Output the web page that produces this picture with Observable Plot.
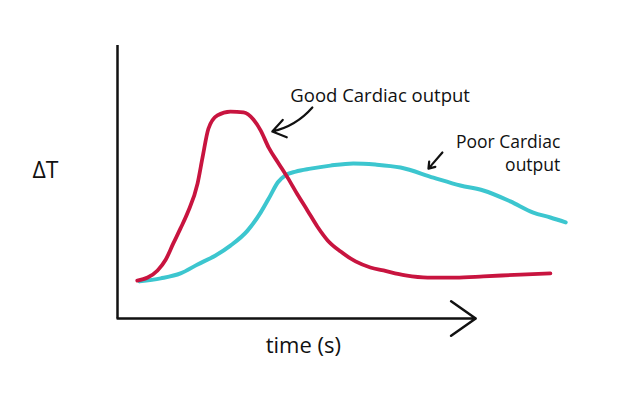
<!DOCTYPE html>
<html>
<head>
<meta charset="utf-8">
<script src="https://cdn.jsdelivr.net/npm/d3@7"></script>
<script src="https://cdn.jsdelivr.net/npm/@observablehq/plot@0.6"></script>
<style>
  html, body { margin: 0; padding: 0; background: #fff; }
  #chart svg { display: block; }
</style>
</head>
<body>
<div id="chart"></div>
<script>
// Good cardiac output (red)
const goodT = [4.4, 6.7, 8.9, 10.7, 12.4, 14.0, 15.6, 17.8, 18.9, 20.2, 22.2, 25.1, 28.0, 30.2, 31.8, 33.6, 35.8, 37.8, 40.0, 42.2, 44.4, 46.7, 49.6, 52.9, 56.2, 59.1, 64.0, 68.9, 75.1, 81.3, 89.6, 96.2];
const goodDT = [13.9, 15.0, 17.6, 21.5, 27.5, 33.0, 38.8, 49.5, 59.0, 69.5, 74.4, 75.8, 75.5, 72.9, 68.9, 62.6, 56.8, 51.6, 45.4, 39.6, 33.7, 28.6, 24.5, 20.9, 18.7, 17.6, 15.8, 15.0, 15.0, 15.4, 16.1, 16.5];
// Poor cardiac output (cyan)
const poorT = [4.9, 9.6, 14.0, 17.8, 21.8, 25.1, 28.9, 31.8, 34.0, 35.6, 37.3, 39.6, 42.9, 47.3, 52.4, 57.3, 62.9, 70.2, 76.2, 81.3, 87.3, 92.4, 96.2, 99.6];
const poorDT = [13.6, 14.7, 16.5, 19.8, 23.1, 26.7, 32.2, 38.8, 45.1, 49.8, 52.4, 53.8, 54.9, 56.0, 56.8, 56.4, 55.3, 51.6, 48.7, 46.9, 42.9, 38.8, 37.0, 35.2];

const labels = ["Good Cardiac output", "Poor Cardiac\noutput"];
const axisLabels = ["ΔT", "time (s)"];

const good = goodT.map((t, i) => ({t, v: goodDT[i]}));
const poor = poorT.map((t, i) => ({t, v: poorDT[i]}));

const font = "'Open Sans', Lato, sans-serif";

const chart = Plot.plot({
  width: 620,
  height: 396,
  marginLeft: 117,
  marginRight: 53,
  marginTop: 45,
  marginBottom: 78,
  x: {domain: [0, 100], axis: null},
  y: {domain: [0, 100], axis: null},
  style: {fontFamily: font, background: "#fff", overflow: "visible"},
  marks: [
    // axes
    Plot.ruleX([0], {y1: 0, y2: 100, stroke: "#111", strokeWidth: 2.5}),
    Plot.arrow([0], {x1: 0, x2: 79.6, y1: 0, y2: 0, stroke: "#111", strokeWidth: 2.5, headLength: 18, headAngle: 70}),
    // curves
    Plot.line(poor, {x: "t", y: "v", curve: "monotone-x", stroke: "#3cc6cf", strokeWidth: 4, strokeLinecap: "round"}),
    Plot.line(good, {x: "t", y: "v", curve: "monotone-x", stroke: "#c8143f", strokeWidth: 3.8, strokeLinecap: "round"}),
    // annotation arrows
    Plot.arrow([0], {x1: 43.3, y1: 77.3, x2: 34.4, y2: 68.5, bend: 18, stroke: "#111", strokeWidth: 2.2, headLength: 14, headAngle: 70}),
    Plot.arrow([0], {x1: 72.2, y1: 60.8, x2: 69.1, y2: 54.9, stroke: "#111", strokeWidth: 2.2, headLength: 11, headAngle: 70}),
    // labels
    Plot.text([labels[0]], {x: 38.4, y: 81.5, text: d => d, textAnchor: "start", fontSize: 18.5, fill: "#111"}),
    Plot.text([labels[1]], {x: 98.4, y: 60.8, text: d => d, textAnchor: "end", lineAnchor: "middle", lineHeight: 1.3, fontSize: 17.5, fill: "#111"}),
    Plot.text([axisLabels[0]], {x: -16, y: 54.2, text: d => d, fontSize: 23, fill: "#111"}),
    Plot.text([axisLabels[1]], {x: 41.3, y: -9.9, text: d => d, fontSize: 22, fill: "#111"})
  ]
});
document.getElementById("chart").appendChild(chart);
</script>
</body>
</html>
